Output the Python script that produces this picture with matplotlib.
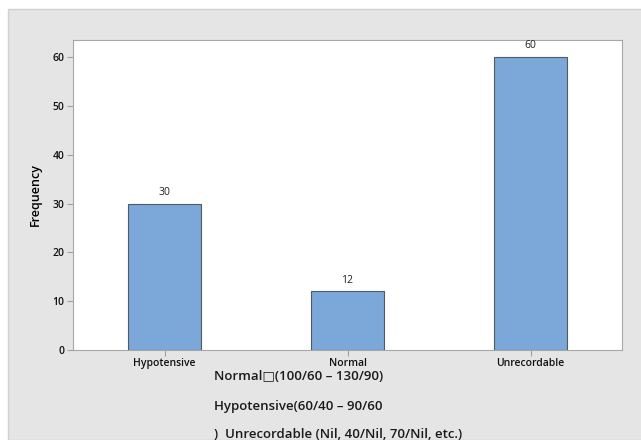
import matplotlib.pyplot as plt
from matplotlib.patches import Rectangle

categories = ["Hypotensive", "Normal", "Unrecordable"]
counts = [30, 12, 60]
yticks = [0, 10, 20, 30, 40, 50, 60]
notes = [
    "Normal\u25a1(100/60 \u2013 130/90)",
    "Hypotensive(60/40 \u2013 90/60",
    ")  Unrecordable (Nil, 40/Nil, 70/Nil, etc.)",
]

plt.rcParams['font.family'] = ['Open Sans', 'DejaVu Sans']

W, H = 641, 440
fig = plt.figure(figsize=(W / 100, H / 100), dpi=100)
fig.patch.set_facecolor('white')

# grey background panel
fig.patches.append(Rectangle((8 / W, 0), 1, (H - 9) / H, transform=fig.transFigure,
                             facecolor='#e5e5e5', edgecolor='#d0d0d0', lw=1, zorder=-1))

ax = fig.add_axes([73 / W, (H - 350) / H, (622 - 73) / W, (350 - 40) / H])
ax.set_facecolor('white')

x = range(len(categories))
bars = ax.bar(x, counts, width=0.4, color='#7ba7d9', edgecolor='#505a66', linewidth=0.8)
for b, v in zip(bars, counts):
    ax.text(b.get_x() + b.get_width() / 2, v + 1.2, str(v), ha='center', va='bottom',
            fontsize=7.5, color='#222222')

ax.set_xlim(-0.5, 2.5)
ax.set_ylim(0, 63.5)
ax.set_xticks(list(x))
ax.set_xticklabels(categories, fontsize=7.5, fontweight='semibold', color='#111111')
ax.set_yticks(yticks)
ax.set_yticklabels([str(t) for t in yticks], fontsize=7.5, fontweight='semibold', color='#111111')
ax.set_ylabel("Frequency", fontsize=9, fontweight='semibold', labelpad=8)

for s in ax.spines.values():
    s.set_color('#a8a8a8')
ax.tick_params(axis='both', colors='#a0a0a0', labelcolor='#111111', length=4, width=0.8, pad=2)

ys = [376, 406, 434]
for t, y in zip(notes, ys):
    fig.text(214 / W, 1 - y / H, t, ha='left', va='center', fontsize=9.5,
             fontweight='semibold', color='#1a1a1a')

fig.savefig('out.png', dpi=100)
